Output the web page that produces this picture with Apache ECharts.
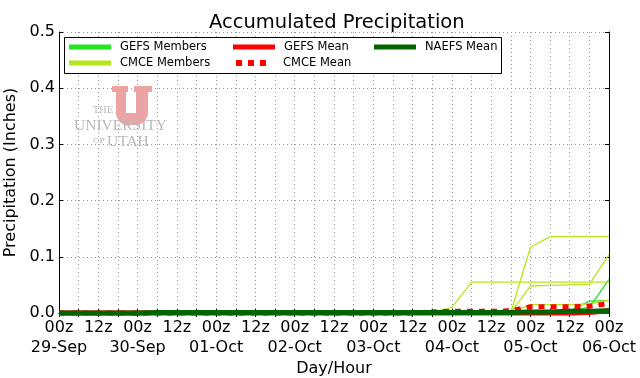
<!DOCTYPE html>
<html>
<head>
<meta charset="utf-8">
<script src="https://cdn.jsdelivr.net/npm/echarts@6/dist/echarts.min.js"></script>
<style>
  html, body { margin: 0; padding: 0; background: #fff; }
  #main { width: 640px; height: 378px; }
</style>
</head>
<body>
<div id="main"></div>
<script>
// 6-hourly steps, 29-Sep 00z .. 06-Oct 00z
var hours = ['00z', '06z', '12z', '18z', '00z', '06z', '12z', '18z',
    '00z', '06z', '12z', '18z', '00z', '06z', '12z', '18z',
    '00z', '06z', '12z', '18z', '00z', '06z', '12z', '18z',
    '00z', '06z', '12z', '18z', '00z'];
var days = ['29-Sep', '30-Sep', '01-Oct', '02-Oct', '03-Oct', '04-Oct', '05-Oct', '06-Oct'];

var yTicks = [0, 0.1, 0.2, 0.3, 0.4, 0.5];

// GEFS members (inches)
var gefs1 = [0, 0, 0, 0, 0, 0.004, 0.004, 0.004, 0.004, 0.004, 0.004, 0.004, 0.004, 0.004, 0.004, 0.004,
    0.004, 0.004, 0.004, 0.004, 0.004, 0.004, 0.004, 0.004, 0.004, 0.004, 0.004, 0.010, 0.060];
var gefs2 = [0, 0, 0, 0, 0, 0.003, 0.003, 0.003, 0.003, 0.003, 0.003, 0.003, 0.003, 0.003, 0.003, 0.003,
    0.003, 0.003, 0.003, 0.003, 0.003, 0.003, 0.003, 0.003, 0.004, 0.004, 0.004, 0.021, 0.022];
var gefs3 = [0, 0, 0, 0, 0, 0.002, 0.002, 0.002, 0.002, 0.002, 0.002, 0.002, 0.002, 0.002, 0.002, 0.002,
    0.002, 0.002, 0.002, 0.002, 0.002, 0.002, 0.002, 0.002, 0.002, 0.002, 0.002, 0.002, 0.002];
var gefs4 = [0, 0, 0, 0, 0, 0, 0, 0, 0, 0, 0, 0, 0, 0, 0, 0,
    0, 0, 0, 0, 0, 0, 0, 0, 0, 0, 0, 0, 0];

// CMCE members (inches)
var cmce1 = [0, 0, 0, 0, 0, 0, 0, 0, 0, 0, 0, 0, 0, 0, 0, 0,
    0, 0, 0, 0.001, 0.010, 0.055, 0.055, 0.055, 0.055, 0.055, 0.055, 0.055, 0.055];
var cmce2 = [0, 0, 0, 0, 0, 0, 0, 0, 0, 0, 0, 0, 0, 0, 0, 0,
    0, 0, 0, 0, 0, 0, 0, 0.001, 0.117, 0.136, 0.136, 0.136, 0.136];
var cmce3 = [0, 0, 0, 0, 0, 0, 0, 0, 0, 0, 0, 0, 0, 0, 0, 0,
    0, 0, 0, 0, 0, 0, 0, 0.001, 0.048, 0.049, 0.050, 0.051, 0.104];
var cmce4 = [0, 0, 0, 0, 0, 0, 0, 0, 0, 0, 0, 0, 0, 0, 0, 0,
    0, 0, 0, 0, 0, 0, 0, 0.001, 0.015, 0.015, 0.015, 0.016, 0.023];
var cmce5 = [0.001, 0.001, 0.001, 0.001, 0.001, 0.001, 0.001, 0.001, 0.001, 0.001, 0.001, 0.001, 0.001, 0.001, 0.001, 0.001,
    0.001, 0.001, 0.001, 0.001, 0.001, 0.001, 0.001, 0.001, 0.002, 0.002, 0.002, 0.002, 0.003];

// means
var gefsMean = [0, 0, 0, 0, 0, 0, 0, 0, 0, 0, 0, 0, 0, 0, 0, 0,
    0, 0, 0, 0, 0, 0, 0, 0, 0, 0, 0, 0.001, 0.004];
var cmceMean = [0, 0, 0, 0, 0, 0, 0, 0, 0, 0, 0, 0, 0, 0, 0, 0,
    0, 0, 0, 0.002, 0.003, 0.003, 0.003, 0.004, 0.011, 0.011, 0.011, 0.012, 0.017];
var naefsMean = [0, 0, 0, 0, 0, 0.001, 0.001, 0.001, 0.001, 0.001, 0.001, 0.001, 0.001, 0.001, 0.001, 0.001,
    0.001, 0.001, 0.001, 0.001, 0.001, 0.001, 0.001, 0.001, 0.002, 0.002, 0.003, 0.003, 0.004];

var FONT = 'DejaVu Sans';
var GEFS_C = '#22e622';
var CMCE_C = '#b5e61d';
var RED = '#ff0000';
var NAEFS_C = '#006400';

var myChart = echarts.init(document.getElementById('main'), null, {renderer: 'canvas'});

function member(name, color, data) {
    return {
        name: name, type: 'line', data: data, symbol: 'none', xAxisIndex: 0, yAxisIndex: 0,
        lineStyle: {color: color, width: 1.3}, itemStyle: {color: color}, z: 2
    };
}

function legendAt(left, top, name, w, extra) {
    var l = {
        data: [name], left: left, top: top, padding: 0, itemWidth: w, itemHeight: 5,
        icon: 'rect', selectedMode: false, z: 100,
        textStyle: {fontFamily: FONT, fontSize: 11.5, color: '#000', padding: [0, 0, 0, 4]}
    };
    for (var k in extra) l[k] = extra[k];
    return l;
}

var xAxisBase = {
    type: 'category', data: hours, boundaryGap: false,
    axisLine: {lineStyle: {color: '#000', width: 1}},
    axisTick: {inside: true, length: 4, interval: 0, lineStyle: {color: '#000'}},
    splitLine: {show: false}
};

var tickFont = {fontFamily: FONT, fontSize: 16, color: '#000'};

var option = {
    animation: false,
    backgroundColor: '#fff',
    title: {
        text: 'Accumulated Precipitation', left: 204, top: 8,
        textStyle: {fontFamily: FONT, fontSize: 19.5, fontWeight: 'normal', color: '#000'}
    },
    grid: {left: 59, right: 31, top: 32, bottom: 65, outerBoundsMode: 'none', containLabel: false},
    legend: [
        legendAt(69, 41, 'GEFS Members', 42),
        legendAt(69, 57, 'CMCE Members', 42),
        legendAt(233, 41, 'GEFS Mean', 42),
        legendAt(236, 57, 'CMCE Mean', 30, {
            icon: 'path://M0,0h6v6h-6z M12,0h6v6h-6z M24,0h6v6h-6z',
            itemHeight: 6,
            textStyle: {fontFamily: FONT, fontSize: 11.5, color: '#000', padding: [0, 0, 0, 12]}
        }),
        legendAt(374, 41, 'NAEFS Mean', 42)
    ],
    graphic: [
        // legend frame
        {type: 'rect', left: 64, top: 37, z: 90, shape: {width: 437, height: 36},
            style: {fill: '#fff', stroke: '#000', lineWidth: 1}},
        // University of Utah watermark
        {type: 'polygon', z: 1, silent: true,
            shape: {points: [[112, 86], [128, 86], [128, 92], [126, 92], [126, 113], [136, 113], [136, 92], [134, 92],
                [134, 86], [152, 86], [152, 92], [148, 92], [148, 115], [145, 121], [139, 125], [124, 125],
                [119, 121], [116, 115], [116, 92], [112, 92]]},
            style: {fill: '#eba3a3'}},
        {type: 'text', left: 93, top: 106, z: 1, silent: true,
            style: {text: 'THE', font: '9px "DejaVu Serif"', fill: '#b8b8b8'}},
        {type: 'text', left: 74, top: 118, z: 1, silent: true,
            style: {text: 'UNIVERSITY', font: '15.5px "Liberation Serif"', fill: '#b8b8b8'}},
        {type: 'text', left: 93, top: 137, z: 1, silent: true,
            style: {text: 'OF', font: '8px "DejaVu Serif"', fill: '#b8b8b8'}},
        {type: 'text', left: 107, top: 134, z: 1, silent: true,
            style: {text: 'UTAH', font: '15.5px "Liberation Serif"', fill: '#b8b8b8'}}
    ],
    xAxis: [
        // hour labels, frame and 6-hourly grid
        Object.assign({}, xAxisBase, {
            position: 'bottom',
            axisLabel: Object.assign({interval: 1, margin: 7, showMinLabel: true, showMaxLabel: true}, tickFont),
            splitLine: {show: true, interval: 0, lineStyle: {color: '#9a9a9a', type: [1, 3], width: 1}}
        }),
        Object.assign({}, xAxisBase, {position: 'top', axisLabel: {show: false}}),
        // day labels on a second row
        Object.assign({}, xAxisBase, {
            position: 'bottom',
            name: 'Day/Hour', nameLocation: 'middle', nameGap: 46,
            nameTextStyle: tickFont,
            axisLine: {show: false}, axisTick: {show: false},
            axisLabel: Object.assign({
                interval: 3, margin: 27, showMinLabel: true, showMaxLabel: true,
                formatter: function (v, i) { return days[i / 4]; }
            }, tickFont)
        })
    ],
    yAxis: [
        {
            type: 'value', min: 0, max: 0.5, interval: 0.1, position: 'left',
            name: 'Precipitation (Inches)', nameLocation: 'middle', nameGap: 37,
            nameTextStyle: tickFont,
            axisLine: {show: true, lineStyle: {color: '#000'}},
            axisTick: {show: true, inside: true, length: 4, lineStyle: {color: '#000'}},
            axisLabel: Object.assign({
                margin: 4,
                formatter: function (v) { return v.toFixed(1); }
            }, tickFont),
            splitLine: {show: true, lineStyle: {color: '#9a9a9a', type: [1, 3], width: 1}}
        },
        {
            type: 'value', min: 0, max: 0.5, interval: 0.1, position: 'right',
            axisLine: {show: true, lineStyle: {color: '#000'}},
            axisTick: {show: true, inside: true, length: 4, lineStyle: {color: '#000'}},
            axisLabel: {show: false}, splitLine: {show: false}
        }
    ],
    series: [
        member('GEFS Members', GEFS_C, gefs4),
        member('GEFS Members', GEFS_C, gefs3),
        member('GEFS Members', GEFS_C, gefs2),
        member('GEFS Members', GEFS_C, gefs1),
        member('CMCE Members', CMCE_C, cmce5),
        member('CMCE Members', CMCE_C, cmce4),
        member('CMCE Members', CMCE_C, cmce3),
        member('CMCE Members', CMCE_C, cmce2),
        member('CMCE Members', CMCE_C, cmce1),
        {
            name: 'GEFS Mean', type: 'line', data: gefsMean, symbol: 'none', z: 3, clip: false,
            lineStyle: {color: RED, width: 5}, itemStyle: {color: RED}
        },
        {
            name: 'CMCE Mean', type: 'line', data: cmceMean, symbol: 'none', z: 4, clip: false,
            lineStyle: {color: RED, width: 5, type: [6, 6], cap: 'butt'}, itemStyle: {color: RED}
        },
        {
            name: 'NAEFS Mean', type: 'line', data: naefsMean, symbol: 'none', z: 5, clip: false,
            lineStyle: {color: NAEFS_C, width: 5}, itemStyle: {color: NAEFS_C}
        }
    ]
};

myChart.setOption(option);
</script>
</body>
</html>
